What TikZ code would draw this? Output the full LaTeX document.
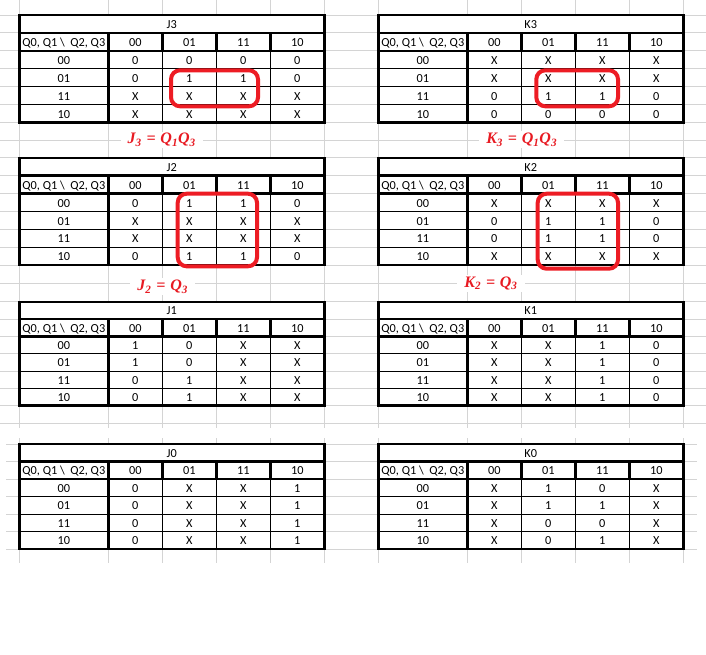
\documentclass[tikz,border=0pt]{standalone}
\usepackage{fontspec}
\newfontfamily\cellfont{Carlito}
\newfontfamily\formfont{Liberation Serif}
\definecolor{gridgray}{RGB}{212,212,212}
\definecolor{kred}{RGB}{237,28,36}
\definecolor{fred}{RGB}{232,26,34}
\newcommand\fsub[1]{\textsubscript{#1}}
\newcommand\feq{\hspace{0.3em}=\hspace{0.3em}}
\tikzset{
  gridline/.style={draw=gridgray, line width=1pt},
  thickrule/.style={draw=black, line width=2.4pt},
  thinrule/.style={draw=black, line width=1pt},
  cell/.style={inner sep=0pt, anchor=base, text=black, font=\cellfont\fontsize{12.3}{14}\selectfont},
  formula/.style={fill=white, text=fred, inner xsep=7pt, inner ysep=0pt, minimum height=16.5pt, font=\formfont\bfseries\itshape\fontsize{16}{18}\selectfont},
  groupbox/.style={draw=kred, line width=4pt, rounded corners=9pt},
}
% #1 name, #2 x0, #3 y0, #4 row height, #5 title, #6 rows
\newcommand\kmap[6]{%
  \begin{scope}[shift={(#2,#3)}]
    \fill[white] (0,0) rectangle (305,6*#4);
    \foreach \k in {3,4,5} \draw[thinrule] (0,\k*#4) -- (305,\k*#4);
    \foreach \cx in {143,197,251} \draw[thinrule] (\cx,2*#4) -- (\cx,6*#4);
    \foreach \cx in {143,197,251} \draw[thickrule] (\cx,#4) -- (\cx,2*#4);
    \draw[thickrule] (0,#4) -- (305,#4);
    \draw[thickrule] (0,2*#4) -- (305,2*#4);
    \draw[thickrule] (89,#4) -- (89,6*#4);
    \draw[thickrule] (0,0) rectangle (305,6*#4);
    \node[cell] (#1-title) at (152.5,#4-4.3) {#5};
    \node[cell] (#1-head) at (44.5,2*#4-4.3) {Q0, Q1 \textbackslash\ \ Q2, Q3};
    \foreach \g/\hx [count=\i] in {00/116,01/170,11/224,10/278}
      \node[cell] (#1-h\i) at (\hx,2*#4-4.3) {\g};
    \foreach \lab/\va/\vb/\vc/\vd [count=\r] in {#6} {
      \node[cell] (#1-\r-0) at (44.5,{(\r+2)*#4-4.3}) {\lab};
      \node[cell] (#1-\r-1) at (116,{(\r+2)*#4-4.3}) {\va};
      \node[cell] (#1-\r-2) at (170,{(\r+2)*#4-4.3}) {\vb};
      \node[cell] (#1-\r-3) at (224,{(\r+2)*#4-4.3}) {\vc};
      \node[cell] (#1-\r-4) at (278,{(\r+2)*#4-4.3}) {\vd};
    }
  \end{scope}}
\begin{document}
\begin{tikzpicture}[x=1pt,y=-1pt]
\useasboundingbox[fill=white] (0,0) rectangle (706,654);
% spreadsheet grid
\foreach \gx in {19.3,108.3,162.3,216.3,270.3,324.3,378.3,467.3,521.3,575.3,629.3,683.3} {
  \draw[gridline] (\gx,0) -- (\gx,428);
  \draw[gridline] (\gx,438) -- (\gx,563);
}
\foreach \k in {0,...,6} {
  \draw[gridline] (0,15+\k*17.9) -- (706,15+\k*17.9);
  \draw[gridline] (0,157.7+\k*17.9) -- (706,157.7+\k*17.9);
  \draw[gridline] (0,301.7+\k*17.33) -- (706,301.7+\k*17.33);
  \draw[gridline] (6,444+\k*17.5) -- (697,444+\k*17.5);
}
\foreach \gy in {140.2,283.3,423.3} \draw[gridline] (0,\gy) -- (706,\gy);
% maps
\kmap{J3}{19.3}{15}{17.9}{J3}{00/0/0/0/0,01/0/1/1/0,11/X/X/X/X,10/X/X/X/X}
\kmap{K3}{378.3}{15}{17.9}{K3}{00/X/X/X/X,01/X/X/X/X,11/0/1/1/0,10/0/0/0/0}
\kmap{J2}{19.3}{157.7}{17.9}{J2}{00/0/1/1/0,01/X/X/X/X,11/X/X/X/X,10/0/1/1/0}
\kmap{K2}{378.3}{157.7}{17.9}{K2}{00/X/X/X/X,01/0/1/1/0,11/0/1/1/0,10/X/X/X/X}
\kmap{J1}{19.3}{301.7}{17.33}{J1}{00/1/0/X/X,01/1/0/X/X,11/0/1/X/X,10/0/1/X/X}
\kmap{K1}{378.3}{301.7}{17.33}{K1}{00/X/X/1/0,01/X/X/1/0,11/X/X/1/0,10/X/X/1/0}
\kmap{J0}{19.3}{444}{17.5}{J0}{00/0/X/X/1,01/0/X/X/1,11/0/X/X/1,10/0/X/X/1}
\kmap{K0}{378.3}{444}{17.5}{K0}{00/X/1/0/X,01/X/1/1/X,11/X/0/0/X,10/X/0/1/X}
% groupings
\draw[groupbox] (171,70.3) rectangle (258,106.3);
\draw[groupbox] (536.3,70.3) rectangle (618,106.3);
\draw[groupbox] (177.7,193.7) rectangle (257,266.3);
\draw[groupbox] (537.7,193.7) rectangle (618,268.7);
% formulas
\node[formula] (fJ3) at (161.7,140) {J\fsub{3}\feq Q\fsub{1}Q\fsub{3}};
\node[formula] (fK3) at (521.7,139.5) {K\fsub{3}\feq Q\fsub{1}Q\fsub{3}};
\node[formula] (fJ2) at (162.7,286.5) {J\fsub{2}\feq Q\fsub{3}};
\node[formula] (fK2) at (491,283.3) {K\fsub{2}\feq Q\fsub{3}};
\end{tikzpicture}
\end{document}
